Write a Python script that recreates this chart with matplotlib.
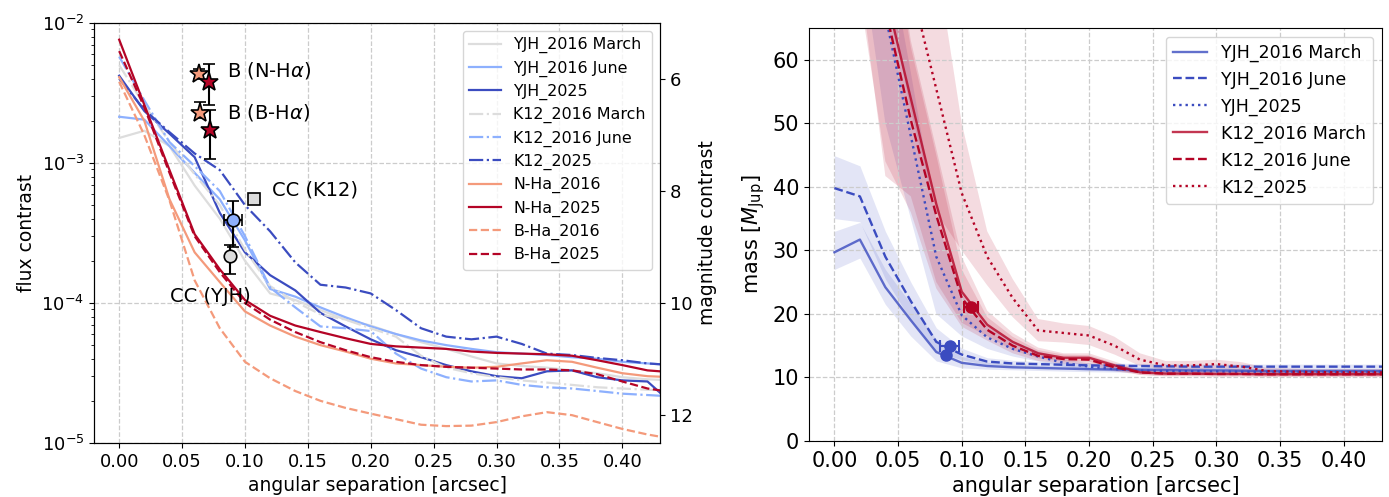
import matplotlib

matplotlib.use('Agg')
import matplotlib.pyplot as plt
import numpy as np

# --- contrast curves (left panel) ---
sep = [0.00, 0.02, 0.04, 0.06, 0.08, 0.10, 0.12, 0.14, 0.16, 0.18, 0.20, 0.22,
       0.24, 0.26, 0.28, 0.30, 0.32, 0.34, 0.36, 0.38, 0.40, 0.42, 0.44]

yjh_2016_march = [1.51e-3, 1.70e-3, 1.32e-3, 6.9e-4, 4.0e-4, 2.0e-4, 1.17e-4, 1.05e-4, 8.9e-5,
                  7.6e-5, 6.9e-5, 6.0e-5, 5.25e-5, 4.7e-5, 4.15e-5, 3.7e-5, 3.55e-5, 3.45e-5,
                  3.3e-5, 3.15e-5, 2.95e-5, 2.85e-5, 2.8e-5]
yjh_2016_june = [2.14e-3, 2.04e-3, 1.32e-3, 8.5e-4, 5.5e-4, 2.8e-4, 1.26e-4, 1.11e-4, 9.3e-5,
                 7.9e-5, 6.8e-5, 6.0e-5, 5.4e-5, 5.0e-5, 4.7e-5, 4.45e-5, 4.35e-5, 4.25e-5,
                 4.1e-5, 4.0e-5, 3.8e-5, 3.7e-5, 3.6e-5]
yjh_2025 = [4.2e-3, 2.35e-3, 1.62e-3, 1.1e-3, 4.4e-4, 2.3e-4, 1.58e-4, 1.23e-4, 8.5e-5,
            6.8e-5, 5.5e-5, 4.6e-5, 4.1e-5, 3.6e-5, 3.25e-5, 3.0e-5, 2.9e-5, 3.25e-5,
            3.3e-5, 2.95e-5, 2.8e-5, 2.75e-5, 1.9e-5]
k12_2016_march = [5.0e-3, 2.6e-3, 1.41e-3, 8.3e-4, 5.0e-4, 2.4e-4, 1.32e-4, 1.02e-4, 8.3e-5,
                  7.6e-5, 6.6e-5, 5.75e-5, 4.2e-5, 3.45e-5, 3.15e-5, 2.95e-5, 2.8e-5, 2.7e-5,
                  2.6e-5, 2.5e-5, 2.45e-5, 2.4e-5, 2.37e-5]
k12_2016_june = [5.75e-3, 2.8e-3, 1.41e-3, 9.5e-4, 6.3e-4, 3.0e-4, 1.29e-4, 9.3e-5, 6.8e-5,
                 6.6e-5, 6.3e-5, 4.35e-5, 3.4e-5, 2.95e-5, 2.75e-5, 2.8e-5, 2.6e-5, 2.5e-5,
                 2.45e-5, 2.35e-5, 2.25e-5, 2.2e-5, 2.15e-5]
k12_2025 = [4.0e-3, 2.4e-3, 1.66e-3, 1.17e-3, 8.9e-4, 5.0e-4, 3.25e-4, 1.95e-4, 1.35e-4,
            1.29e-4, 1.17e-4, 8.9e-5, 6.6e-5, 5.75e-5, 5.5e-5, 5.75e-5, 5.1e-5, 4.35e-5,
            4.25e-5, 4.05e-5, 3.9e-5, 3.7e-5, 3.6e-5]
nha_2016 = [4.1e-3, 2.0e-3, 5.5e-4, 2.3e-4, 1.41e-4, 8.7e-5, 6.9e-5, 5.75e-5, 5.0e-5,
            4.5e-5, 4.0e-5, 3.7e-5, 3.6e-5, 3.5e-5, 3.45e-5, 3.5e-5, 3.7e-5, 3.9e-5,
            3.8e-5, 3.45e-5, 3.15e-5, 3.0e-5, 2.95e-5]
nha_2025 = [7.6e-3, 2.6e-3, 8.9e-4, 3.1e-4, 1.74e-4, 1.05e-4, 8.1e-5, 6.9e-5, 6.2e-5,
            5.6e-5, 5.1e-5, 4.9e-5, 4.8e-5, 4.7e-5, 4.5e-5, 4.4e-5, 4.35e-5, 4.3e-5,
            4.2e-5, 3.9e-5, 3.6e-5, 3.3e-5, 3.2e-5]
bha_2016 = [3.8e-3, 1.58e-3, 5.4e-4, 1.45e-4, 6.6e-5, 3.8e-5, 2.9e-5, 2.35e-5, 2.0e-5,
            1.78e-5, 1.62e-5, 1.48e-5, 1.35e-5, 1.32e-5, 1.33e-5, 1.41e-5, 1.55e-5, 1.66e-5,
            1.58e-5, 1.41e-5, 1.26e-5, 1.15e-5, 1.07e-5]
bha_2025 = [6.3e-3, 2.5e-3, 8.5e-4, 3.0e-4, 1.66e-4, 1.0e-4, 7.6e-5, 6.2e-5, 5.25e-5,
            4.6e-5, 4.1e-5, 3.8e-5, 3.6e-5, 3.5e-5, 3.45e-5, 3.4e-5, 3.35e-5, 3.35e-5,
            3.3e-5, 3.1e-5, 2.75e-5, 2.45e-5, 2.3e-5]

# companion photometry: (sep, flux, lower, upper)
b_nha_2016 = (0.0637, 4.3e-3, 3.95e-3, 4.7e-3)
b_nha_2025 = (0.0711, 3.8e-3, 2.6e-3, 5.07e-3)
b_bha_2016 = (0.0640, 2.27e-3, 2.09e-3, 2.72e-3)
b_bha_2025 = (0.0719, 1.72e-3, 1.07e-3, 2.4e-3)
cc_k12 = (0.107, 5.5e-4, 5.2e-4, 5.8e-4)
cc_yjh_march = (0.0884, 2.15e-4, 1.62e-4, 2.59e-4)
cc_yjh_june = (0.0903, 3.9e-4, 2.51e-4, 5.37e-4)
cc_yjh_june_xerr = 0.007

# --- mass limits (right panel) ---
m_yjh_2016_march = [29.7, 31.7, 24.2, 19.0, 14.0, 12.3, 11.8, 11.6, 11.5, 11.4, 11.3, 11.25,
                    11.2, 11.15, 11.1, 11.1, 11.05, 11.0, 11.0, 11.0, 11.0, 11.0, 11.0]
m_yjh_2016_march_lo = [27.0, 28.8, 21.5, 16.5, 12.6, 11.5, 11.3, 11.2, 11.1, 11.0, 10.9, 10.85,
                       10.8, 10.75, 10.7, 10.7, 10.65, 10.6, 10.6, 10.6, 10.6, 10.6, 10.6]
m_yjh_2016_march_hi = [33.0, 34.4, 27.0, 21.6, 16.0, 13.3, 12.4, 12.1, 11.9, 11.8, 11.7, 11.65,
                       11.6, 11.55, 11.5, 11.5, 11.45, 11.4, 11.4, 11.4, 11.4, 11.4, 11.4]
m_yjh_2016_june = [39.8, 38.5, 29.0, 22.0, 15.6, 13.6, 12.5, 12.2, 12.1, 12.0, 11.9, 11.85,
                   11.8, 11.75, 11.7, 11.7, 11.7, 11.7, 11.7, 11.7, 11.7, 11.7, 11.7]
m_yjh_2016_june_lo = [35.0, 34.5, 25.5, 19.0, 14.0, 12.8, 12.0, 11.8, 11.7, 11.6, 11.5, 11.45,
                      11.4, 11.35, 11.3, 11.3, 11.3, 11.3, 11.3, 11.3, 11.3, 11.3, 11.3]
m_yjh_2016_june_hi = [44.9, 43.3, 33.0, 25.0, 17.8, 14.6, 13.1, 12.7, 12.5, 12.4, 12.3, 12.25,
                      12.2, 12.15, 12.1, 12.1, 12.1, 12.1, 12.1, 12.1, 12.1, 12.1, 12.1]
m_yjh_2025 = [120, 95, 67, 48, 29, 19.8, 16.3, 14.5, 13.3, 12.3, 11.7, 11.3,
              11.1, 11.0, 11.0, 10.95, 10.9, 10.9, 10.9, 10.9, 10.9, 10.9, 10.9]
m_yjh_2025_lo = [100, 78, 50, 35, 20, 16.5, 14.5, 13.3, 12.5, 11.7, 11.2, 10.9,
                 10.7, 10.6, 10.6, 10.55, 10.5, 10.5, 10.5, 10.5, 10.5, 10.5, 10.5]
m_yjh_2025_hi = [140, 112, 80, 58, 35, 23, 18, 15.7, 14.1, 12.9, 12.2, 11.7,
                 11.5, 11.4, 11.4, 11.35, 11.3, 11.3, 11.3, 11.3, 11.3, 11.3, 11.3]
m_k12_2016_march = [110, 90, 70.5, 53.9, 37.3, 23.5, 18.3, 15.6, 13.8, 13.1, 13.1, 11.9,
                    10.8, 10.6, 10.6, 10.55, 10.55, 10.5, 10.5, 10.5, 10.5, 10.5, 10.5]
m_k12_2016_march_lo = [95, 73, 41.7, 38.5, 25, 18.6, 16.5, 14.3, 13.0, 12.5, 12.5, 11.3,
                       10.4, 10.2, 10.2, 10.15, 10.15, 10.1, 10.1, 10.1, 10.1, 10.1, 10.1]
m_k12_2016_march_hi = [130, 110, 90, 63, 46, 29, 20.5, 17.0, 14.7, 13.8, 13.8, 12.5,
                       11.2, 11.0, 11.0, 10.95, 10.95, 10.9, 10.9, 10.9, 10.9, 10.9, 10.9]
m_k12_2016_june = [105, 88, 68, 50.5, 35.5, 22.5, 17.5, 15.0, 13.4, 12.9, 12.8, 11.6,
                   10.8, 10.6, 10.6, 10.55, 10.55, 10.5, 10.5, 10.5, 10.5, 10.5, 10.5]
m_k12_2016_june_lo = [90, 70, 44, 36, 24, 18, 15.8, 13.8, 12.6, 12.2, 12.1, 11.0,
                      10.4, 10.2, 10.2, 10.15, 10.15, 10.1, 10.1, 10.1, 10.1, 10.1, 10.1]
m_k12_2016_june_hi = [125, 105, 85, 62, 45, 27, 19.5, 16.4, 14.3, 13.6, 13.5, 12.2,
                      11.2, 11.0, 11.0, 10.95, 10.95, 10.9, 10.9, 10.9, 10.9, 10.9, 10.9]
m_k12_2025 = [130, 110, 90, 71.7, 55.4, 39, 29, 22.5, 17.4, 17.0, 16.6, 15.0,
              12.8, 11.9, 11.9, 12.1, 11.7, 11.0, 10.9, 10.85, 10.8, 10.8, 10.8]
m_k12_2025_lo = [110, 92, 72, 52, 36, 30, 24.5, 19.5, 15.7, 15.5, 15.1, 13.6,
                 11.8, 11.2, 11.2, 11.4, 11.0, 10.5, 10.4, 10.4, 10.3, 10.3, 10.3]
m_k12_2025_hi = [150, 130, 108, 88, 76, 50, 33, 25.5, 19.2, 18.5, 18.1, 16.4,
                 13.8, 12.6, 12.6, 12.8, 12.4, 11.5, 11.4, 11.3, 11.3, 11.3, 11.3]

# companion mass estimates: (sep, mass, xerr)
m_cc_yjh_march = (0.088, 13.6, 0.0)
m_cc_yjh_june = (0.0905, 14.9, 0.0075)
m_cc_k12 = (0.107, 21.1, 0.0055)

C_GREY = '#dddddd'
C_LBLUE = '#8db0fe'
C_DBLUE = '#3b4cc0'
C_SALMON = '#f49a7b'
C_DRED = '#b40426'

fig = plt.figure(figsize=(13.89, 4.97), dpi=100)
ax = fig.add_axes([0.0677, 0.1087, 0.4075, 0.845])
ax_r = fig.add_axes([0.5824, 0.1127, 0.4125, 0.831])

# --- left: flux contrast ---
lw = 1.6
ax.plot(sep, yjh_2016_march, color=C_GREY, lw=lw, label='YJH_2016 March')
ax.plot(sep, yjh_2016_june, color=C_LBLUE, lw=lw, label='YJH_2016 June')
ax.plot(sep, yjh_2025, color=C_DBLUE, lw=lw, label='YJH_2025')
ax.plot(sep, k12_2016_march, color=C_GREY, lw=lw, ls='-.', label='K12_2016 March')
ax.plot(sep, k12_2016_june, color=C_LBLUE, lw=lw, ls='-.', label='K12_2016 June')
ax.plot(sep, k12_2025, color=C_DBLUE, lw=lw, ls='-.', label='K12_2025')
ax.plot(sep, nha_2016, color=C_SALMON, lw=lw, label='N-Ha_2016')
ax.plot(sep, nha_2025, color=C_DRED, lw=lw, label='N-Ha_2025')
ax.plot(sep, bha_2016, color=C_SALMON, lw=lw, ls='--', label='B-Ha_2016')
ax.plot(sep, bha_2025, color=C_DRED, lw=lw, ls='--', label='B-Ha_2025')


def point(axis, p, color, marker, ms, xerr=None):
    x, y, lo, hi = p
    axis.errorbar([x], [y], yerr=[[y - lo], [hi - y]], xerr=xerr, fmt=marker, ms=ms,
                  mfc=color, mec='k', mew=1.2, ecolor='k', elinewidth=1.5,
                  capsize=4, capthick=1.5, zorder=5)


point(ax, b_nha_2016, C_SALMON, '*', 14)
point(ax, b_nha_2025, C_DRED, '*', 14)
point(ax, b_bha_2016, C_SALMON, '*', 14)
point(ax, b_bha_2025, C_DRED, '*', 14)
point(ax, cc_k12, C_GREY, 's', 9)
point(ax, cc_yjh_march, C_GREY, 'o', 9)
point(ax, cc_yjh_june, C_LBLUE, 'o', 9, xerr=cc_yjh_june_xerr)

ax.text(0.0855, 4.6e-3, r'B (N-H$\alpha$)', fontsize=14, va='center')
ax.text(0.0855, 2.28e-3, r'B (B-H$\alpha$)', fontsize=14, va='center')
ax.text(0.1216, 6.4e-4, 'CC (K12)', fontsize=14, va='center')
ax.text(0.0406, 1.11e-4, 'CC (YJH)', fontsize=14, va='center')

ax.set_yscale('log')
ax.set_ylim(1e-5, 1e-2)
ax.set_xlim(-0.02, 0.43)
ax.set_xticks(np.arange(0, 0.41, 0.05))
ax.grid(True, ls='--', color='#cccccc', lw=0.9)
ax.tick_params(labelsize=13)
ax.set_xlabel('angular separation [arcsec]', fontsize=13.5)
ax.set_ylabel('flux contrast', fontsize=13.5)
ax.legend(loc='upper right', fontsize=11.4, labelspacing=0.45)

ax_mag = ax.twinx()
ax_mag.set_position(ax.get_position())
ax_mag.set_ylim(12.5, 5)
ax_mag.set_yticks([6, 8, 10, 12])
ax_mag.tick_params(labelsize=13)
ax_mag.set_ylabel('magnitude contrast', fontsize=13.5)

# --- right: mass limits ---
bands = [
    (m_yjh_2016_march_lo, m_yjh_2016_march_hi, C_DBLUE),
    (m_yjh_2016_june_lo, m_yjh_2016_june_hi, C_DBLUE),
    (m_yjh_2025_lo, m_yjh_2025_hi, C_DBLUE),
    (m_k12_2016_march_lo, m_k12_2016_march_hi, C_DRED),
    (m_k12_2016_june_lo, m_k12_2016_june_hi, C_DRED),
    (m_k12_2025_lo, m_k12_2025_hi, C_DRED),
]
for lo, hi, c in bands:
    ax_r.fill_between(sep, lo, hi, color=c, alpha=0.14, lw=0)

lw = 1.7
ax_r.plot(sep, m_yjh_2016_march, color=C_DBLUE, alpha=0.8, lw=lw, label='YJH_2016 March')
ax_r.plot(sep, m_yjh_2016_june, color=C_DBLUE, lw=lw, ls='--', label='YJH_2016 June')
ax_r.plot(sep, m_yjh_2025, color=C_DBLUE, lw=lw, ls=':', label='YJH_2025')
ax_r.plot(sep, m_k12_2016_march, color=C_DRED, alpha=0.8, lw=lw, label='K12_2016 March')
ax_r.plot(sep, m_k12_2016_june, color=C_DRED, lw=lw, ls='--', label='K12_2016 June')
ax_r.plot(sep, m_k12_2025, color=C_DRED, lw=lw, ls=':', label='K12_2025')

for (x, m, xe), c in [(m_cc_yjh_march, C_DBLUE), (m_cc_yjh_june, C_DBLUE),
                      (m_cc_k12, C_DRED)]:
    ax_r.errorbar([x], [m], xerr=xe if xe > 0 else None, fmt='o', ms=8, color=c,
                  elinewidth=1.5, capsize=4, capthick=1.5, zorder=5)

ax_r.set_xlim(-0.02, 0.43)
ax_r.set_ylim(0, 65)
ax_r.set_xticks(np.arange(0, 0.41, 0.05))
ax_r.grid(True, ls='--', color='#cccccc', lw=0.9)
ax_r.tick_params(labelsize=15)
ax_r.set_xlabel('angular separation [arcsec]', fontsize=15)
ax_r.set_ylabel(r'mass [$M_\mathrm{Jup}$]', fontsize=15)
ax_r.legend(loc='upper right', fontsize=12.5, labelspacing=0.5)

fig.savefig('out.png', dpi=100)
